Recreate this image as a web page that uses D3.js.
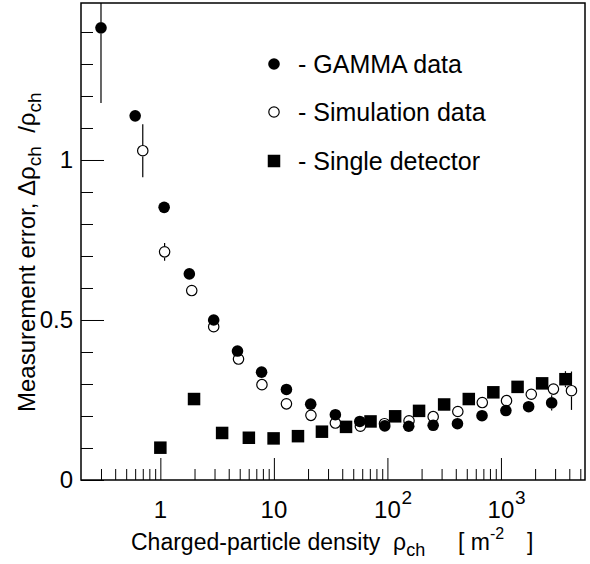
<!DOCTYPE html>
<html>
<head>
<meta charset="utf-8">
<script src="https://cdn.jsdelivr.net/npm/d3@7"></script>
<style>
  body { margin: 0; background: #fff; }
  text { font-family: "Liberation Sans", Arial, Helvetica, sans-serif; fill: #000; }
</style>
</head>
<body>
<svg id="chart" width="590" height="564"></svg>
<script>
// GAMMA data (filled circles)
var gammaX = [0.30, 0.60, 1.08, 1.80, 2.95, 4.78, 7.79, 12.9, 21.1, 34.8, 57.1, 94.8, 154, 253, 414, 681, 1105, 1754, 2797];
var gammaY = [1.413, 1.138, 0.852, 0.644, 0.500, 0.403, 0.337, 0.283, 0.237, 0.204, 0.183, 0.169, 0.168, 0.171, 0.176, 0.201, 0.217, 0.229, 0.241];
var gammaErr = [0.235, 0.01, 0.01, 0.01, 0.01, 0.01, 0.01, 0.01, 0.01, 0.01, 0.01, 0.01, 0.01, 0.01, 0.01, 0.01, 0.01, 0.012, 0.024];

// Simulation data (open circles)
var simX = [0.70, 1.09, 1.89, 2.95, 4.88, 7.85, 12.9, 21.2, 34.8, 57.8, 94.2, 155, 253, 417, 685, 1120, 1850, 2899, 4181];
var simY = [1.029, 0.713, 0.592, 0.479, 0.378, 0.298, 0.238, 0.202, 0.178, 0.168, 0.176, 0.185, 0.198, 0.214, 0.242, 0.248, 0.268, 0.284, 0.279];
var simErr = [0.083, 0.028, 0.01, 0.01, 0.01, 0.01, 0.01, 0.01, 0.01, 0.01, 0.01, 0.01, 0.01, 0.01, 0.01, 0.01, 0.01, 0.015, 0.06];

// Single detector (filled squares)
var detX = [1.0, 1.98, 3.5, 6.02, 9.94, 16.3, 26.5, 43.2, 71, 117, 190, 316, 521, 857, 1401, 2306, 3700];
var detY = [0.101, 0.253, 0.147, 0.132, 0.130, 0.137, 0.151, 0.166, 0.183, 0.199, 0.216, 0.236, 0.253, 0.274, 0.291, 0.302, 0.315];
var detErr = [0.005, 0.005, 0.005, 0.005, 0.005, 0.005, 0.005, 0.005, 0.005, 0.005, 0.005, 0.005, 0.005, 0.005, 0.005, 0.005, 0.025];

// axis ticks and labels
var xMajor = [1, 10, 100, 1000];
var xTickBase = ["1", "10", "10", "10"];
var xTickExp = ["", "", "2", "3"];
var yMajor = [0, 0.5, 1];
var legendLabels = ["- GAMMA data", "- Simulation data", "- Single detector"];

var mLeft = 81, mRight = 585, mTop = 3, mBottom = 480;
var svg = d3.select("#chart");

var x = d3.scaleLog().domain([0.2, 5500]).range([mLeft, mRight]);
var y = d3.scaleLinear().domain([0, 1.4906]).range([mBottom, mTop]);

//////// axes
var xMinor = x.ticks().filter(function(d) {
	return xMajor.indexOf(d) < 0 && d > 0.2;
});
svg.append("g")
	.attr("transform", "translate(0," + mBottom + ")")
	.call(d3.axisBottom(x).tickValues(xMinor).tickSize(-11).tickFormat(""))
	.call(function(g) { g.select(".domain").remove(); });
svg.append("g")
	.attr("transform", "translate(0," + mBottom + ")")
	.call(d3.axisBottom(x).tickValues(xMajor).tickSize(-22).tickFormat(""))
	.call(function(g) { g.select(".domain").remove(); });

var yMinor = y.ticks(15).filter(function(d) { return yMajor.indexOf(d) < 0; });
svg.append("g")
	.attr("transform", "translate(" + mLeft + ",0)")
	.call(d3.axisLeft(y).tickValues(yMinor).tickSize(-12).tickFormat(""))
	.call(function(g) { g.select(".domain").remove(); });
var yAxis = svg.append("g")
	.attr("transform", "translate(" + mLeft + ",0)")
	.call(d3.axisLeft(y).tickValues(yMajor).tickSize(-23).tickPadding(8).tickFormat(function(d) { return String(d); }))
	.call(function(g) { g.select(".domain").remove(); });
yAxis.selectAll("text")
	.style("font-family", "'Liberation Sans', Arial, sans-serif")
	.style("font-size", "24px")
	.attr("fill", "#000");
svg.selectAll(".tick line").attr("stroke", "#000").attr("stroke-width", 1);

// x tick labels, with powers of ten
var xLab = svg.append("g").style("font-size", "24px");
xLab.selectAll("text.base")
	.data(xMajor)
	.enter().append("text")
	.attr("class", "base")
	.attr("x", function(d) { return x(d); })
	.attr("y", 518)
	.attr("text-anchor", "middle")
	.text(function(d, i) { return xTickBase[i]; });
xLab.selectAll("text.exp")
	.data(xMajor)
	.enter().append("text")
	.attr("class", "exp")
	.attr("x", function(d) { return x(d) + 14; })
	.attr("y", 504)
	.style("font-size", "19px")
	.text(function(d, i) { return xTickExp[i]; });

// frame
svg.append("rect")
	.attr("x", mLeft).attr("y", mTop)
	.attr("width", mRight - mLeft).attr("height", mBottom - mTop)
	.attr("fill", "none")
	.attr("stroke", "#000")
	.attr("stroke-width", 1.5);

//////// axis titles
var xt = svg.append("text")
	.attr("x", 131).attr("y", 550)
	.style("font-size", "23px")
	.style("white-space", "pre");
xt.append("tspan").text("Charged-particle density  \u03c1");
xt.append("tspan").attr("dy", 6).style("font-size", "18px").text("ch");
xt.append("tspan").attr("x", 458).attr("dy", -6).text("[ m");
xt.append("tspan").attr("dy", -11).style("font-size", "16px").text("-2");
xt.append("tspan").attr("x", 527).attr("dy", 11).text("]");

var yt = svg.append("text")
	.attr("transform", "translate(35,412) rotate(-90)")
	.style("font-size", "24px")
	.style("white-space", "pre");
yt.append("tspan").text("Measurement error, \u0394\u03c1");
yt.append("tspan").attr("dy", 6).style("font-size", "19px").text("ch");
yt.append("tspan").attr("dy", -6).text("  /\u03c1");
yt.append("tspan").attr("dy", 6).style("font-size", "19px").text("ch");

//////// data points
var plot = svg.append("g");
var R = 5.8, S = 12.5;

// draw error bars only outside the marker
function errorBars(xs, ys, es, half) {
	xs.forEach(function(xv, i) {
		var cx = x(xv), cy = y(ys[i]);
		var up = Math.max(y(ys[i] + es[i]), mTop), dn = y(ys[i] - es[i]);
		if (cy - up > half) {
			plot.append("line").attr("x1", cx).attr("x2", cx)
				.attr("y1", up).attr("y2", cy - half)
				.attr("stroke", "#000").attr("stroke-width", 1.2);
		}
		if (dn - cy > half) {
			plot.append("line").attr("x1", cx).attr("x2", cx)
				.attr("y1", cy + half).attr("y2", dn)
				.attr("stroke", "#000").attr("stroke-width", 1.2);
		}
	});
}

errorBars(detX, detY, detErr, S / 2);
plot.selectAll("rect.det")
	.data(detX)
	.enter().append("rect")
	.attr("class", "det")
	.attr("x", function(d) { return x(d) - S / 2; })
	.attr("y", function(d, i) { return y(detY[i]) - S / 2; })
	.attr("width", S).attr("height", S)
	.attr("fill", "#000");

errorBars(simX, simY, simErr, R);
plot.selectAll("circle.sim")
	.data(simX)
	.enter().append("circle")
	.attr("class", "sim")
	.attr("cx", function(d) { return x(d); })
	.attr("cy", function(d, i) { return y(simY[i]); })
	.attr("r", R - 0.6)
	.attr("fill", "#fff")
	.attr("stroke", "#000")
	.attr("stroke-width", 1.2);

errorBars(gammaX, gammaY, gammaErr, R);
plot.selectAll("circle.gamma")
	.data(gammaX)
	.enter().append("circle")
	.attr("class", "gamma")
	.attr("cx", function(d) { return x(d); })
	.attr("cy", function(d, i) { return y(gammaY[i]); })
	.attr("r", R)
	.attr("fill", "#000");

//////// legend
var legY = [64, 112, 161];
var legend = svg.selectAll("g.legend")
	.data(legendLabels)
	.enter().append("g")
	.attr("class", "legend")
	.attr("transform", function(d, i) { return "translate(274," + legY[i] + ")"; });
legend.each(function(d, i) {
	var g = d3.select(this);
	if (i == 0) g.append("circle").attr("r", R).attr("fill", "#000");
	if (i == 1) g.append("circle").attr("r", R - 0.6).attr("fill", "#fff").attr("stroke", "#000").attr("stroke-width", 1.2);
	if (i == 2) g.append("rect").attr("x", -S / 2).attr("y", -S / 2).attr("width", S).attr("height", S).attr("fill", "#000");
});
legend.append("text")
	.attr("x", 24)
	.attr("y", 9)
	.style("font-size", "25px")
	.text(function(d) { return d; });
</script>
</body>
</html>
